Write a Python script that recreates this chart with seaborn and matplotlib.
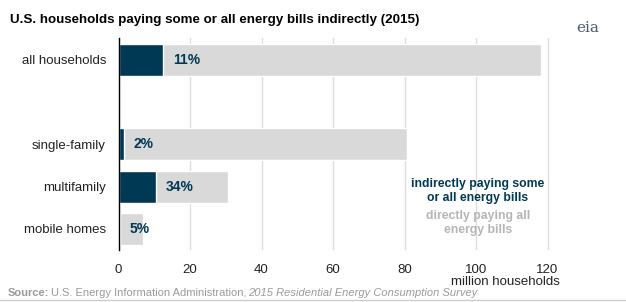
import matplotlib
matplotlib.use("Agg")
import matplotlib.pyplot as plt
import seaborn as sns
import pandas as pd

categories = ["all households", "single-family", "multifamily", "mobile homes"]
positions = [0, 2, 3, 4]
total_households = [118.2, 80.7, 30.6, 6.8]
indirect_households = [12.5, 1.6, 10.4, 0.35]
pct_labels = ["11%", "2%", "34%", "5%"]
x_ticks = [0, 20, 40, 60, 80, 100, 120]

DARK = "#003953"
LIGHT = "#d9d9d9"

sns.set_theme(style="white")
plt.rcParams["font.family"] = ["Liberation Sans", "DejaVu Sans"]

df = pd.DataFrame({"cat": categories, "pos": positions,
                   "total": total_households, "indirect": indirect_households})

fig = plt.figure(figsize=(6.26, 3.02), dpi=100)
ax = fig.add_axes([118.5 / 626, 1 - 250 / 302, (560 - 118.5) / 626, (250 - 38) / 302])

sns.barplot(data=df, x="total", y="pos", orient="y", native_scale=True,
            color=LIGHT, width=0.76, ax=ax, saturation=1, zorder=2)
sns.barplot(data=df, x="indirect", y="pos", orient="y", native_scale=True,
            color=DARK, width=0.76, ax=ax, saturation=1, zorder=3)

for p, v, lab in zip(positions, indirect_households, pct_labels):
    ax.annotate(lab, (v, p), xytext=(7, 0), textcoords="offset points",
                va="center", ha="left", fontsize=10, fontweight="bold",
                color=DARK, zorder=4)

ax.set_xlim(0, (560 - 118.5) / 3.575)
ax.set_ylim(4.5, -0.52)
ax.set_xticks(x_ticks)
ax.set_xticklabels([str(t) for t in x_ticks], fontsize=9.5, color="#222222")
ax.set_yticks(positions)
ax.set_yticklabels(categories, fontsize=9.5, color="#222222")
ax.tick_params(axis="y", length=0, pad=9)
ax.tick_params(axis="x", length=0, pad=10)
ax.set_xlabel("")
ax.set_ylabel("")
ax.xaxis.grid(True, color="#dddddd", linewidth=1, zorder=0)
ax.set_axisbelow(True)
for s in ["top", "right", "bottom"]:
    ax.spines[s].set_visible(False)
ax.spines["left"].set_color("black")
ax.spines["left"].set_linewidth(1)
ax.spines["left"].set_zorder(5)

fig.text(560 / 626, 1 - 282 / 302, "million households", ha="right", va="center",
         fontsize=9.5, color="#222222")

ax.text(0.814, 0.278, "indirectly paying some\nor all energy bills", transform=ax.transAxes,
        ha="center", va="center", fontsize=8.8, fontweight="bold", color=DARK,
        linespacing=1.3)
ax.text(0.814, 0.127, "directly paying all\nenergy bills", transform=ax.transAxes,
        ha="center", va="center", fontsize=8.8, fontweight="bold", color="#b5b5b5",
        linespacing=1.3)

fig.text(10 / 626, 1 - 20 / 302, "U.S. households paying some or all energy bills indirectly (2015)",
         ha="left", va="center", fontsize=9.6, fontweight="bold", color="black")
fig.text(588 / 626, 1 - 28 / 302, "eia", ha="center", va="center", fontsize=11,
         color="#4a5b6a", family="DejaVu Serif")

fig.text(8 / 626, 1 - 293 / 302, "Source:", ha="left", va="center", fontsize=8,
         fontweight="bold", color="#9a9a9a")
fig.text(51 / 626, 1 - 293 / 302,
         "U.S. Energy Information Administration, ", ha="left", va="center",
         fontsize=8, color="#9a9a9a")
fig.text(248 / 626, 1 - 293 / 302,
         "2015 Residential Energy Consumption Survey", ha="left", va="center",
         fontsize=8, style="italic", color="#9a9a9a")
fig.add_artist(plt.Line2D([0, 1], [1 - 300 / 302] * 2, color="#cccccc", linewidth=1))

fig.savefig("out.png", dpi=100)
